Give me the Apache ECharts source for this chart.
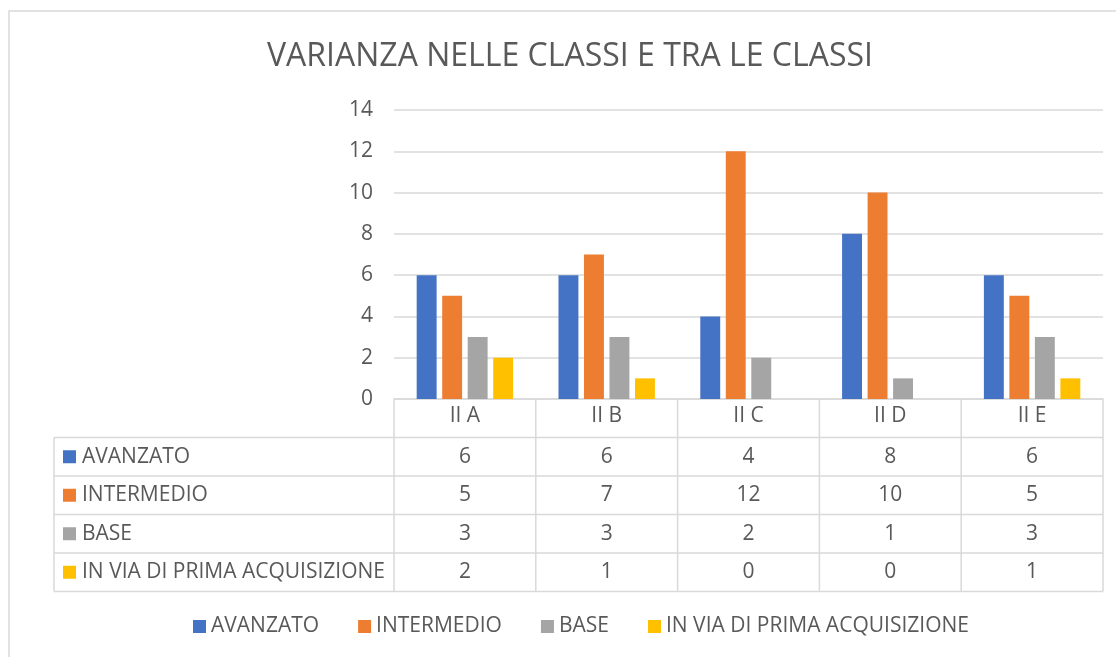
<!DOCTYPE html>
<html lang="it">
<head>
    <meta charset="UTF-8">
    <title>Varianza nelle classi</title>
    <script type="text/javascript" src="https://cdn.jsdelivr.net/npm/echarts@6/dist/echarts.min.js"></script>
    <style>
        html, body { margin: 0; padding: 0; background: #fff; }
        #chart { width: 1116px; height: 657px; }
    </style>
</head>
<body>
<div id="chart"></div>
<script>
    // dati
    var classi = ['II A', 'II B', 'II C', 'II D', 'II E'];
    var livelli = ['AVANZATO', 'INTERMEDIO', 'BASE', 'IN VIA DI PRIMA ACQUISIZIONE'];
    var avanzato = [6, 6, 4, 8, 6];
    var intermedio = [5, 7, 12, 10, 5];
    var base = [3, 3, 2, 1, 3];
    var inVia = [2, 1, 0, 0, 1];
    var yTicks = [0, 2, 4, 6, 8, 10, 12, 14];

    var colori = ['#4472C4', '#ED7D31', '#A5A5A5', '#FFC000'];
    var valori = [avanzato, intermedio, base, inVia];
    var font = 'Open Sans';
    var fs = 21;
    var testo = '#595959';
    var bordo = '#d9d9d9';

    var mychart = echarts.init(document.getElementById('chart'));

    var series = livelli.map(function (nome, i) {
        return {
            name: nome,
            type: 'bar',
            data: valori[i],
            itemStyle: { color: colori[i] },
            barGap: '28%',
            barCategoryGap: '32%'
        };
    });

    var option = {
        animation: false,
        textStyle: { fontFamily: font },
        title: {
            text: 'VARIANZA NELLE CLASSI E TRA LE CLASSI',
            left: 565,
            textAlign: 'center',
            top: 36,
            textStyle: { color: testo, fontSize: 32, fontWeight: 'normal', fontFamily: font }
        },
        legend: {
            data: livelli,
            bottom: 15,
            left: 188,
            icon: 'rect',
            itemWidth: 13,
            itemHeight: 13,
            itemGap: 39,
            textStyle: { color: testo, fontSize: fs, fontFamily: font }
        },
        grid: { left: 394, right: 13, top: 110, bottom: 258, containLabel: false },
        xAxis: {
            type: 'category',
            data: classi,
            axisLine: { lineStyle: { color: bordo, width: 1.5 } },
            axisTick: { show: false },
            axisLabel: { color: testo, fontSize: fs, margin: 7 }
        },
        yAxis: {
            type: 'value',
            min: yTicks[0],
            max: yTicks[yTicks.length - 1],
            interval: yTicks[1] - yTicks[0],
            axisLine: { show: false },
            axisTick: { show: false },
            splitLine: { lineStyle: { color: bordo, width: 1.5 } },
            axisLabel: { color: testo, fontSize: fs, margin: 21 }
        },
        series: series
    };
    mychart.setOption(option);

    // tabella dati sotto l'asse
    function disegnaTabella() {
        var y0 = mychart.convertToPixel({ yAxisIndex: 0 }, 0);
        var c0 = mychart.convertToPixel({ xAxisIndex: 0 }, 0);
        var c1 = mychart.convertToPixel({ xAxisIndex: 0 }, 1);
        var banda = c1 - c0;
        var xLeft = c0 - banda / 2;
        var xRight = xLeft + banda * classi.length;
        var rigaH = 38.5;
        var xTab = 54;
        var yFine = y0 + rigaH * (livelli.length + 1);
        var g = [];
        var linea = { stroke: bordo, lineWidth: 1.5 };

        // bordo esterno del grafico
        g.push({ type: 'rect', shape: { x: 9, y: 11, width: 1120, height: 660 },
            style: { fill: 'none', stroke: bordo, lineWidth: 1.5 }, silent: true });

        // righe orizzontali
        for (var r = 1; r <= livelli.length + 1; r++) {
            var yy = y0 + rigaH * r;
            g.push({ type: 'line', shape: { x1: xTab, y1: yy, x2: xRight, y2: yy }, style: linea });
        }
        // colonne verticali
        for (var c = 0; c <= classi.length; c++) {
            var xx = xLeft + banda * c;
            g.push({ type: 'line', shape: { x1: xx, y1: y0, x2: xx, y2: yFine }, style: linea });
        }
        g.push({ type: 'line', shape: { x1: xTab, y1: y0 + rigaH, x2: xTab, y2: yFine }, style: linea });

        livelli.forEach(function (nome, i) {
            var yc = y0 + rigaH * (i + 1.5);
            g.push({ type: 'rect', shape: { x: 63, y: yc - 6.5, width: 13, height: 13 },
                style: { fill: colori[i] } });
            g.push({ type: 'text', x: 82, y: yc,
                style: { text: nome, fill: testo, font: fs + 'px "' + font + '"', verticalAlign: 'middle' } });
            valori[i].forEach(function (v, j) {
                g.push({ type: 'text', x: mychart.convertToPixel({ xAxisIndex: 0 }, j), y: yc,
                    style: { text: String(v), fill: testo, font: fs + 'px "' + font + '"',
                        align: 'center', verticalAlign: 'middle' } });
            });
        });
        mychart.setOption({ graphic: g });
    }
    disegnaTabella();
</script>
</body>
</html>
